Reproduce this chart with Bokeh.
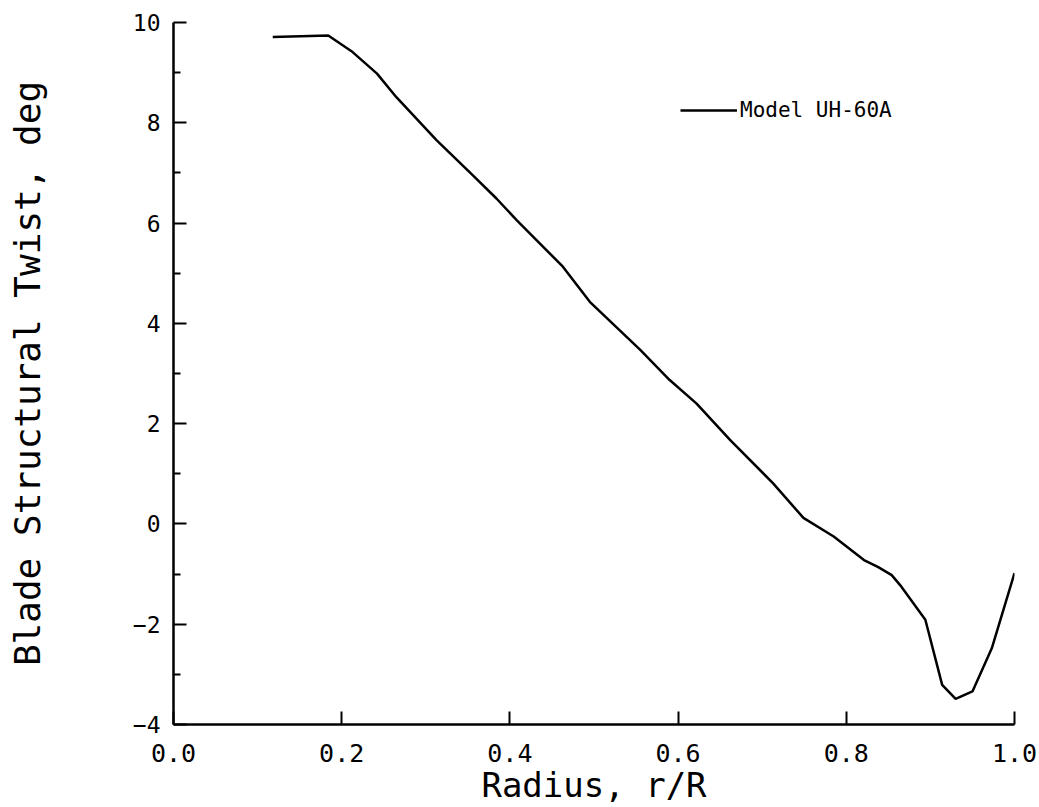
from bokeh.plotting import figure
from bokeh.models import FixedTicker, Range1d, Legend, LegendItem
from bokeh.embed import file_html
from bokeh.resources import INLINE

# Data
radius = [0.118, 0.184, 0.213, 0.242, 0.265, 0.313, 0.356, 0.384, 0.408, 0.463,
          0.495, 0.555, 0.590, 0.622, 0.662, 0.713, 0.749, 0.785, 0.821, 0.838,
          0.854, 0.864, 0.894, 0.914, 0.930, 0.950, 0.973, 1.000]
twist = [9.71, 9.74, 9.41, 8.98, 8.51, 7.65, 6.95, 6.49, 6.06, 5.13,
         4.43, 3.47, 2.87, 2.40, 1.67, 0.81, 0.12, -0.25, -0.72, -0.86,
         -1.02, -1.22, -1.91, -3.21, -3.49, -3.34, -2.48, -0.98]
series_name = "Model UH-60A"
x_ticks = [0.0, 0.2, 0.4, 0.6, 0.8, 1.0]
y_ticks = [-4, -2, 0, 2, 4, 6, 8, 10]
y_minor = [-3, -1, 1, 3, 5, 7, 9]

FONT = "DejaVu Sans Mono"

p = figure(width=1039, height=807, output_backend="svg", toolbar_location=None,
           x_range=Range1d(0, 1.0), y_range=Range1d(-4, 10),
           min_border_left=173, min_border_right=25, min_border_top=22, min_border_bottom=81)
p.outline_line_color = None
p.xgrid.visible = False
p.ygrid.visible = False
p.background_fill_color = "white"

r = p.line(radius, twist, line_color="black", line_width=2.5)

xa = p.xaxis[0]
xa.ticker = FixedTicker(ticks=x_ticks)
xa.major_label_overrides = {0.0: "0.0", 1.0: "1.0"}
xa.axis_label = "Radius, r/R"
ya = p.yaxis[0]
ya.ticker = FixedTicker(ticks=y_ticks, minor_ticks=y_minor)
ya.axis_label = "Blade Structural Twist, deg"

for ax in (xa, ya):
    ax.axis_line_width = 2.5
    ax.axis_line_color = "black"
    ax.major_tick_in = 13
    ax.major_tick_out = 0
    ax.minor_tick_in = 7
    ax.minor_tick_out = 0
    ax.major_tick_line_width = 2
    ax.minor_tick_line_width = 2
    ax.major_label_text_font = FONT
    ax.major_label_text_color = "black"
    ax.axis_label_text_font = FONT
    ax.axis_label_text_font_style = "normal"
    ax.axis_label_text_color = "black"
xa.minor_tick_in = 0
xa.major_label_text_font_size = "25px"
xa.major_label_standoff = 19
xa.axis_label_standoff = 0
xa.axis_label_text_font_size = "34px"
ya.major_label_text_font_size = "23px"
ya.major_label_standoff = 13
ya.axis_label_standoff = 82
ya.axis_label_text_font_size = "36px"

legend = Legend(items=[LegendItem(label=series_name, renderers=[r])],
                location=(507, 602), padding=0, margin=0, spacing=0,
                glyph_width=57, glyph_height=24, label_height=24, label_standoff=3,
                border_line_alpha=0, background_fill_alpha=0,
                label_text_font=FONT, label_text_font_size="21px",
                label_text_color="black")
p.add_layout(legend, "center")

open("out.html", "w").write(file_html(p, INLINE))
